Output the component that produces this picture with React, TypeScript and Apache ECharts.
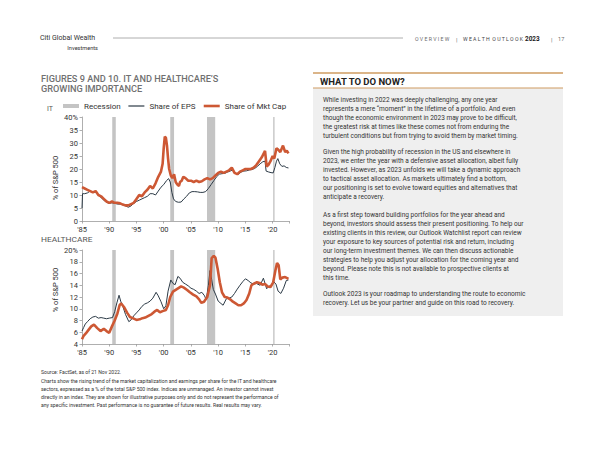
import React, { useEffect, useRef } from "react";
import * as echarts from "echarts";

// ---------- data ----------
const recessions: [number, number][] = [
  [1990.55, 1991.2],
  [2001.2, 2001.9],
  [2007.95, 2009.45],
  [2020.1, 2020.35],
];

const itEps: [number, number][] = [
  [1985.0, 5], [1985.1, 10.5], [1985.5, 10.5], [1986.0, 10.8], [1986.5, 11.5], [1987.0, 11], [1987.5, 11],
  [1988.0, 10], [1988.5, 9], [1989.0, 8], [1989.5, 7.2], [1990.0, 6.8], [1990.5, 7], [1991.0, 6.8],
  [1991.5, 6.5], [1992.0, 6.5], [1992.5, 6.2], [1993.0, 5.8], [1993.5, 5.3], [1994.0, 5.8], [1994.5, 6.8],
  [1995.0, 7.5], [1995.5, 8], [1996.0, 8.5], [1996.5, 9], [1997.0, 9.5], [1997.5, 10.5], [1998.0, 10.5],
  [1998.5, 10], [1999.0, 11.5], [1999.5, 13], [2000.0, 14], [2000.5, 15.5], [2000.9, 16.3], [2001.2, 15],
  [2001.5, 11], [2001.8, 8.5], [2002.2, 7.5], [2002.7, 7.2], [2003.2, 7.3], [2003.7, 8.5], [2004.2, 9.5],
  [2004.7, 10.8], [2005.2, 11.3], [2005.7, 11.3], [2006.2, 11.2], [2006.7, 11], [2007.2, 11], [2007.7, 11.3],
  [2008.2, 12.5], [2008.7, 14], [2009.2, 15.5], [2009.7, 17], [2010.2, 18], [2010.7, 18.2], [2011.2, 18.3],
  [2011.7, 18.8], [2012.2, 19.2], [2012.7, 19.7], [2013.2, 18.3], [2013.7, 18], [2014.2, 18.8], [2014.7, 19.2],
  [2015.2, 19.3], [2015.7, 19.6], [2016.2, 19.8], [2016.7, 20.2], [2017.2, 21], [2017.7, 22], [2018.2, 22.8],
  [2018.6, 23], [2018.8, 19.2], [2019.2, 18.9], [2019.7, 18.6], [2020.1, 18.5], [2020.4, 20.5], [2020.7, 23],
  [2020.95, 24], [2021.3, 22], [2021.7, 21], [2022.1, 21.2], [2022.5, 20.6], [2022.9, 20.4],
];

const itMktCap: [number, number][] = [
  [1985.0, 13], [1985.5, 12.5], [1986.0, 12], [1986.5, 11.5], [1987.0, 11], [1987.5, 11.5], [1988.0, 10],
  [1988.5, 9.5], [1989.0, 8.5], [1989.5, 7.5], [1990.0, 7], [1990.5, 7.5], [1991.0, 7], [1991.5, 7],
  [1992.0, 6.8], [1992.5, 6.3], [1993.0, 6], [1993.5, 6], [1994.0, 6.5], [1994.5, 7], [1995.0, 8.5],
  [1995.5, 10], [1996.0, 9.5], [1996.5, 11], [1997.0, 12], [1997.5, 13.5], [1998.0, 12.5], [1998.5, 14.5],
  [1999.0, 17], [1999.5, 19], [1999.8, 22], [2000.0, 28], [2000.2, 32.5], [2000.4, 32], [2000.6, 29],
  [2000.8, 24], [2001.0, 20], [2001.3, 17.5], [2001.6, 16.5], [2001.9, 18], [2002.2, 15], [2002.5, 14],
  [2002.8, 13.5], [2003.0, 15], [2003.3, 15.5], [2003.6, 17], [2004.0, 16.5], [2004.5, 15.5], [2005.0, 15.5],
  [2005.5, 15], [2006.0, 15.5], [2006.5, 15], [2007.0, 15.3], [2007.5, 16], [2008.0, 16.5], [2008.5, 16],
  [2009.0, 16.5], [2009.5, 17.5], [2010.0, 18.5], [2010.5, 19], [2011.0, 18.5], [2011.5, 19], [2012.0, 19.5],
  [2012.5, 20.5], [2013.0, 18.5], [2013.5, 18], [2014.0, 19], [2014.5, 19.5], [2015.0, 20], [2015.5, 20],
  [2016.0, 20], [2016.5, 20.5], [2017.0, 21.5], [2017.5, 23], [2018.0, 24.5], [2018.6, 27], [2018.9, 21],
  [2019.2, 21.5], [2019.6, 23], [2020.0, 25], [2020.3, 24], [2020.7, 28], [2021.0, 27.5], [2021.4, 26.5],
  [2021.9, 29], [2022.3, 26.5], [2022.6, 27], [2022.9, 26],
];

const hcEps: [number, number][] = [
  [1985.0, 6.2], [1985.3, 6.8], [1985.6, 7.4], [1986.0, 7.8], [1986.5, 8.3], [1987.0, 8.6], [1987.5, 8.7],
  [1988.0, 8.4], [1988.5, 8.5], [1989.0, 8.4], [1989.5, 8.3], [1990.0, 8.4], [1990.6, 8.5], [1991.0, 9.5],
  [1991.4, 11], [1991.8, 12.3], [1992.1, 11.3], [1992.5, 10.4], [1993.0, 9], [1993.6, 7.8], [1994.0, 8.1],
  [1994.5, 8.8], [1995.0, 9.3], [1995.5, 9.8], [1996.0, 10.4], [1996.5, 10.8], [1997.0, 11], [1997.5, 11.3],
  [1998.0, 11.8], [1998.6, 12.8], [1999.0, 12.2], [1999.5, 11.2], [2000.0, 10], [2000.4, 10.5], [2000.8, 13],
  [2001.3, 14.9], [2001.7, 14.3], [2002.1, 14.1], [2002.6, 15.5], [2003.0, 15.2], [2003.5, 14.5], [2004.0, 14.2],
  [2004.5, 13.9], [2005.0, 13.5], [2005.5, 13.3], [2006.0, 13], [2006.5, 12.6], [2007.0, 12.8], [2007.5, 12.2],
  [2007.8, 11.5], [2008.2, 14], [2008.5, 16.5], [2008.8, 15], [2009.1, 13.3], [2009.5, 12.5], [2010.0, 11.3],
  [2010.5, 10.9], [2010.9, 10.6], [2011.5, 11.7], [2012.0, 11.8], [2012.5, 12], [2013.0, 12.6], [2013.4, 13.2],
  [2014.0, 14], [2014.5, 14.6], [2015.0, 15.1], [2015.5, 14.8], [2016.0, 14.4], [2016.5, 14.2], [2017.0, 14.3],
  [2017.7, 14], [2018.3, 15.2], [2018.9, 13.4], [2019.3, 13.8], [2019.8, 14], [2020.2, 14.6], [2020.6, 14.2],
  [2021.0, 13], [2021.5, 12.6], [2022.0, 13.5], [2022.5, 14.8], [2022.9, 14.9],
];

const hcMktCap: [number, number][] = [
  [1985.0, 4.8], [1985.3, 5.4], [1985.7, 5.8], [1986.2, 6.4], [1986.7, 7], [1987.2, 7.3], [1987.8, 6.7],
  [1988.4, 6.2], [1989.0, 6.6], [1989.5, 6.2], [1990.0, 5.9], [1990.5, 7], [1991.0, 8], [1991.5, 9.2],
  [1991.9, 10.6], [1992.2, 10.9], [1992.7, 10.3], [1993.3, 9.3], [1993.8, 8.6], [1994.3, 8.4], [1995.0, 8.1],
  [1995.6, 8.2], [1996.1, 8.4], [1996.6, 8.5], [1997.2, 8.8], [1997.8, 9.1], [1998.3, 9.5], [1998.8, 9.8],
  [1999.3, 9.4], [1999.8, 9.6], [2000.4, 9.8], [2000.8, 10.6], [2001.2, 12], [2001.7, 12.9], [2002.2, 13.2],
  [2002.7, 13.5], [2003.2, 13.8], [2003.7, 13.6], [2004.3, 13.2], [2004.8, 12.8], [2005.4, 12.4], [2006.0, 12.1],
  [2006.5, 11.6], [2006.9, 11], [2007.4, 11.2], [2008.0, 12], [2008.5, 14], [2008.8, 18.6], [2009.2, 19],
  [2009.5, 18.7], [2009.9, 16.8], [2010.3, 14.5], [2010.7, 12.8], [2011.2, 12], [2011.7, 11.9], [2012.2, 11.6],
  [2012.7, 11.2], [2013.2, 10.9], [2013.7, 10.6], [2014.2, 10.6], [2014.7, 10.9], [2015.2, 11.5], [2015.7, 12.6],
  [2016.1, 14], [2016.6, 14.3], [2017.1, 14.5], [2017.6, 14.4], [2018.1, 14.1], [2018.6, 14.2], [2019.1, 13.8],
  [2019.6, 13.7], [2020.1, 14.5], [2020.5, 16.5], [2020.8, 17.8], [2021.1, 17.4], [2021.4, 15], [2021.8, 15.3],
  [2022.3, 15.4], [2022.9, 15.1],
];

const legendNames = ["Recession", "Share of EPS", "Share of Mkt Cap"];

const para1 = [
  "While investing in 2022 was deeply challenging, any one year",
  "represents a mere \u201cmoment\u201d in the lifetime of a portfolio. And even",
  "though the economic environment in 2023 may prove to be difficult,",
  "the greatest risk at times like these comes not from enduring the",
  "turbulent conditions but from trying to avoid them by market timing.",
];
const para2 = [
  "Given the high probability of recession in the US and elsewhere in",
  "2023, we enter the year with a defensive asset allocation, albeit fully",
  "invested. However, as 2023 unfolds we will take a dynamic approach",
  "to tactical asset allocation. As markets ultimately find a bottom,",
  "our positioning is set to evolve toward equities and alternatives that",
  "anticipate a recovery.",
];
const para3 = [
  "As a first step toward building portfolios for the year ahead and",
  "beyond, investors should assess their present positioning. To help our",
  "existing clients in this review, our Outlook Watchlist report can review",
  "your exposure to key sources of potential risk and return, including",
  "our long-term investment themes. We can then discuss actionable",
  "strategies to help you adjust your allocation for the coming year and",
  "beyond. Please note this is not available to prospective clients at",
  "this time.",
];
const para4 = [
  "Outlook 2023 is your roadmap to understanding the route to economic",
  "recovery. Let us be your partner and guide on this road to recovery.",
];
const footnote = [
  "Charts show the rising trend of the market capitalization and earnings per share for the IT and healthcare",
  "sectors, expressed as a % of the total S&P 500 index. Indices are unmanaged. An investor cannot invest",
  "directly in an index. They are shown for illustrative purposes only and do not represent the performance of",
  "any specific investment. Past performance is no guarantee of future results. Real results may vary.",
];

// ---------- styles ----------
const FONT = "Roboto, 'Noto Sans', sans-serif";
const ORANGE = "#cd5834";
const SLATE = "#2c3a46";
const BAND = "#c4c4c4";
const AXIS = "#9a9a9a";

function txt(text: string, x: number, y: number, o: any = {}) {
  return {
    type: "text",
    x,
    y,
    silent: true,
    rotation: o.rotation || 0,
    scaleX: o.scaleX || 1,
    style: {
      text,
      fill: o.color || "#333",
      fontSize: o.size || 7,
      fontFamily: o.family || FONT,
      fontWeight: o.weight || "normal",
      align: o.align || "left",
      textAlign: o.align || "left",
      verticalAlign: o.va || "middle",
      textVerticalAlign: o.va || "middle",
      lineHeight: o.lh,
    },
  };
}

function xAxisFor(idx: number) {
  return {
    type: "value",
    gridIndex: idx,
    min: 1985,
    max: 2023,
    interval: 5,
    axisLine: { show: true, lineStyle: { color: AXIS, width: 0.8 } },
    axisTick: { show: true, length: 2.5, lineStyle: { color: AXIS, width: 0.8 } },
    splitLine: { show: false },
    axisLabel: {
      fontSize: 7.5,
      color: "#333",
      fontFamily: FONT,
      margin: 4,
      formatter: (v: number) => (v % 5 === 0 ? "'" + String(v).slice(2) : ""),
    },
  };
}

function yAxisFor(idx: number, min: number, max: number, interval: number) {
  return {
    type: "value",
    gridIndex: idx,
    min,
    max,
    interval,
    axisLine: { show: true, lineStyle: { color: AXIS, width: 0.8 } },
    axisTick: { show: true, length: 2.5, lineStyle: { color: AXIS, width: 0.8 } },
    splitLine: { show: false },
    axisLabel: {
      fontSize: 7.5,
      color: "#333",
      fontFamily: FONT,
      margin: 4,
      formatter: (v: number) => (v === max ? v + "%" : String(v)),
    },
  };
}

function seriesFor(idx: number, eps: [number, number][], mkt: [number, number][]) {
  return [
    {
      name: legendNames[0],
      type: "line",
      xAxisIndex: idx,
      yAxisIndex: idx,
      data: [],
      symbol: "none",
      itemStyle: { color: BAND },
      lineStyle: { color: BAND },
      markArea: {
        silent: true,
        itemStyle: { color: BAND },
        data: recessions.map(([a, b]) => [{ xAxis: a }, { xAxis: b }]),
      },
    },
    {
      name: legendNames[1],
      type: "line",
      xAxisIndex: idx,
      yAxisIndex: idx,
      data: eps,
      symbol: "none",
      showSymbol: false,
      itemStyle: { color: SLATE },
      lineStyle: { color: SLATE, width: 1 },
      z: 3,
    },
    {
      name: legendNames[2],
      type: "line",
      xAxisIndex: idx,
      yAxisIndex: idx,
      data: mkt,
      symbol: "none",
      showSymbol: false,
      itemStyle: { color: ORANGE },
      lineStyle: { color: ORANGE, width: 2.6 },
      z: 3,
    },
  ];
}

export default function App() {
  const ref = useRef<HTMLDivElement>(null);

  useEffect(() => {
    if (!ref.current) return;
    const chart = echarts.init(ref.current, null, { renderer: "svg" });

    const graphic: any[] = [
      // header
      txt("Citi Global Wealth", 40, 38, { size: 7, color: "#333" }),
      txt("Investments", 98, 48, { size: 5.6, color: "#333", align: "right" }),
      { type: "line", silent: true, shape: { x1: 113, y1: 38, x2: 403, y2: 38 }, style: { stroke: "#9a9a9a", lineWidth: 0.8 } },
      txt("O V E R V I E W", 415, 39, { size: 5.2, color: "#6a6a6a" }),
      txt("|", 456, 39, { size: 6, color: "#6a6a6a" }),
      txt("W E A L T H  O U T L O O K", 463, 39, { size: 5.2, color: "#444" }),
      txt("2023", 525, 39, { size: 6.4, color: "#222", weight: "bold" }),
      txt("|", 551, 39, { size: 6, color: "#6a6a6a" }),
      txt("17", 558, 39, { size: 5.6, color: "#6a6a6a" }),
      // title
      txt("FIGURES 9 AND 10. IT AND HEALTHCARE\u2019S", 41, 79, { size: 8.2, color: "#707070", weight: 500, scaleX: 1.12 }),
      txt("GROWING IMPORTANCE", 41, 89, { size: 8.2, color: "#707070", weight: 500, scaleX: 1.12 }),
      // chart labels
      txt("IT", 47, 109, { size: 7, color: "#555" }),
      txt("HEALTHCARE", 41, 240, { size: 7.3, color: "#555", scaleX: 1.15 }),
      txt("% of S&P 500", 55, 178, { size: 7.5, color: "#333", align: "center", rotation: Math.PI / 2 }),
      txt("% of S&P 500", 55, 290, { size: 7.5, color: "#333", align: "center", rotation: Math.PI / 2 }),
      // right panel
      { type: "rect", silent: true, shape: { x: 313, y: 88, width: 250, height: 228 }, style: { fill: "#efefef" } },
      { type: "line", silent: true, shape: { x1: 313, y1: 73, x2: 563, y2: 73 }, style: { stroke: "#cf9c62", lineWidth: 1.3 } },
      { type: "line", silent: true, shape: { x1: 313, y1: 88, x2: 563, y2: 88 }, style: { stroke: "#cf9c62", lineWidth: 1.1 } },
      txt("WHAT TO DO NOW?", 320, 81, { size: 9.5, color: "#222", weight: "bold" }),
      txt(para1.join("\n"), 323, 95, { size: 6.5, color: "#333", va: "top", lh: 9 }),
      txt(para2.join("\n"), 323, 147.5, { size: 6.5, color: "#333", va: "top", lh: 9 }),
      txt(para3.join("\n"), 323, 210.5, { size: 6.5, color: "#333", va: "top", lh: 9 }),
      txt(para4.join("\n"), 323, 289.5, { size: 6.5, color: "#333", va: "top", lh: 9 }),
      // footer
      txt("Source: FactSet, as of 21 Nov 2022.", 41, 372, { size: 6, color: "#333", scaleX: 0.85 }),
      txt(footnote.join("\n"), 41, 376.3, { size: 6, color: "#333", va: "top", lh: 8.3, scaleX: 0.85 }),
    ];

    chart.setOption({
      animation: false,
      textStyle: { fontFamily: FONT },
      legend: {
        left: 63,
        top: 102,
        padding: 0,
        itemGap: 7,
        itemWidth: 16,
        itemHeight: 4,
        textStyle: { fontSize: 8, color: "#333", fontFamily: FONT },
        data: [
          { name: legendNames[0], icon: "rect" },
          { name: legendNames[1], itemStyle: { opacity: 0 }, lineStyle: { width: 1.2 } },
          { name: legendNames[2], itemStyle: { opacity: 0 }, lineStyle: { width: 2.6 } },
        ],
      },
      grid: [
        { left: 82, top: 117, width: 207, height: 104 },
        { left: 82, top: 250, width: 207, height: 94 },
      ],
      xAxis: [xAxisFor(0), xAxisFor(1)],
      yAxis: [yAxisFor(0, 0, 40, 5), yAxisFor(1, 4, 20, 2)],
      series: [...seriesFor(0, itEps, itMktCap), ...seriesFor(1, hcEps, hcMktCap)],
      graphic,
    });

    return () => chart.dispose();
  }, []);

  return (
    <div
      ref={ref}
      style={{ position: "absolute", left: 0, top: 0, width: 600, height: 463, background: "#fff" }}
    />
  );
}
